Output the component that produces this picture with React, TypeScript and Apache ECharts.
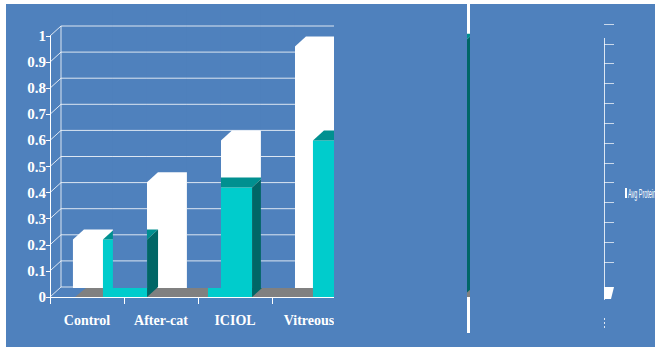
import React, { useEffect, useRef } from "react";
import * as echarts from "echarts";

// ---- data ----
const categories = ["Control", "After-cat", "ICIOL", "Vitreous"];
const backValues = [0.22, 0.44, 0.6, 0.96]; // white (rear row)
const frontValues = [0.22, 0.42, 0.6, 0.97]; // cyan "Avg Protein"
const yTicks = [0, 0.1, 0.2, 0.3, 0.4, 0.5, 0.6, 0.7, 0.8, 0.9, 1];
const legendLabel = "Avg Protein";

// ---- style / layout ----
const BLUE = "#4f81bd";
const WHITE = "#ffffff";
const GRID_LINE = "rgba(255,255,255,0.8)";
const CYAN = "#00cccc";
const CYAN_TOP = "#009090";
const CYAN_SIDE = "#006666";
const FLOOR = "#808080";
const DX = 11;
const DY = -10;
const SERIF = "'Liberation Serif', 'Times New Roman', serif";

function buildOption(): any {
  const wallSeries = {
    type: "custom",
    xAxisIndex: 0,
    yAxisIndex: 0,
    z: 1,
    silent: true,
    data: yTicks.map((v) => [0, v]),
    renderItem: (params: any, api: any) => {
      const cs = params.coordSys;
      const v = api.value(1);
      const y = api.coord([0, v])[1];
      const st = { stroke: GRID_LINE, lineWidth: 1 };
      const children: any[] = [
        { type: "line", shape: { x1: cs.x, y1: y, x2: cs.x + DX, y2: y + DY }, style: st },
        { type: "line", shape: { x1: cs.x + DX, y1: y + DY, x2: cs.x + cs.width, y2: y + DY }, style: st },
      ];
      if (params.dataIndex === 0) {
        const yTop = api.coord([0, yTicks[yTicks.length - 1]])[1];
        children.push({
          type: "line",
          shape: { x1: cs.x + DX, y1: y + DY, x2: cs.x + DX, y2: yTop + DY },
          style: st,
        });
      }
      return { type: "group", children };
    },
  };

  const floorSeries = {
    type: "custom",
    xAxisIndex: 0,
    yAxisIndex: 0,
    z: 2,
    silent: true,
    data: [[0, 0]],
    renderItem: (params: any, api: any) => {
      const base = api.coord([0, 0]);
      const band = api.size([1, 0])[0];
      const x0 = base[0] - band * 0.19 + 2;
      const y0 = base[1];
      const xe = api.getWidth();
      return {
        type: "polygon",
        shape: { points: [[x0, y0], [x0 + DX, y0 + DY + 1], [xe, y0 + DY + 1], [xe, y0]] },
        style: { fill: FLOOR },
      };
    },
  };

  const backSeries = {
    type: "custom",
    name: "Rear",
    xAxisIndex: 0,
    yAxisIndex: 0,
    z: 2,
    data: backValues.map((v, i) => [i, v]),
    renderItem: (params: any, api: any) => {
      const i = api.value(0);
      const v = api.value(1);
      const top = api.coord([i, v]);
      const base = api.coord([i, 0]);
      const band = api.size([1, 0])[0];
      const L = top[0] - band * 0.19;
      const R = L + band * 0.54;
      const bottom = base[1] + DY + 1;
      return {
        type: "polygon",
        shape: {
          points: [
            [L, bottom],
            [L, top[1]],
            [L + DX, top[1] + DY],
            [R + DX, top[1] + DY],
            [R + DX, bottom + DY],
            [R, bottom],
          ],
        },
        style: { fill: WHITE },
      };
    },
  };

  const frontSeries = {
    type: "custom",
    name: legendLabel,
    xAxisIndex: 1,
    yAxisIndex: 1,
    z: 3,
    data: frontValues.map((v, i) => [i, v]),
    renderItem: (params: any, api: any) => {
      const i = api.value(0);
      const v = api.value(1);
      const top = api.coord([i, v]);
      const base = api.coord([i, 0]);
      const band = api.size([1, 0])[0];
      const w = band * 0.42;
      const L = top[0] - w / 2;
      const R = L + w;
      return {
        type: "group",
        children: [
          { type: "rect", shape: { x: L, y: top[1], width: w, height: base[1] - top[1] }, style: { fill: CYAN } },
          {
            type: "polygon",
            shape: { points: [[L, top[1]], [L + DX, top[1] + DY], [R + DX, top[1] + DY], [R, top[1]]] },
            style: { fill: CYAN_TOP },
          },
          {
            type: "polygon",
            shape: { points: [[R, top[1]], [R + DX, top[1] + DY], [R + DX, base[1] + DY], [R, base[1]]] },
            style: { fill: CYAN_SIDE },
          },
        ],
      };
    },
  };

  const gapSeries = {
    type: "custom",
    xAxisIndex: 0,
    yAxisIndex: 0,
    z: 4,
    silent: true,
    data: categories.map((_, i) => [i, 0]),
    renderItem: (params: any, api: any) => {
      const cs = params.coordSys;
      const i = api.value(0);
      const base = api.coord([i, 0]);
      const band = api.size([1, 0])[0];
      const L = base[0] - band * 0.19;
      const x1 = L + band * 0.54;
      const x2 = L + band;
      const yb = base[1] + DY + 1;
      const children: any[] = [
        { type: "rect", shape: { x: x1, y: cs.y - 30, width: x2 - x1, height: yb - (cs.y - 30) }, style: { fill: BLUE } },
      ];
      yTicks.forEach((t) => {
        const y = api.coord([i, t])[1] + DY;
        if (y < yb - 1) {
          children.push({
            type: "line",
            shape: { x1, y1: y, x2, y2: y },
            style: { stroke: GRID_LINE, lineWidth: 1 },
          });
        }
      });
      return { type: "group", children };
    },
  };

  return {
    animation: false,
    backgroundColor: BLUE,
    grid: [
      { left: 50, top: 36, width: 296, height: 261 },
      { left: 72.5, top: 36, width: 420, height: 261 },
      { left: 604, top: 24, width: 10, height: 238 },
    ],
    xAxis: [
      {
        type: "category",
        gridIndex: 0,
        data: categories,
        axisLine: { show: true, lineStyle: { color: WHITE, width: 1 } },
        axisTick: { show: true, length: 7, lineStyle: { color: WHITE } },
        axisLabel: {
          color: WHITE,
          fontFamily: SERIF,
          fontWeight: "bold",
          fontSize: 14,
          margin: 16,
        },
        splitLine: { show: false },
      },
      { type: "category", gridIndex: 1, data: categories, show: false },
      { type: "value", gridIndex: 2, show: false },
    ],
    yAxis: [
      {
        type: "value",
        gridIndex: 0,
        min: 0,
        max: 1,
        interval: 0.1,
        axisLine: { show: true, lineStyle: { color: WHITE, width: 1 } },
        axisTick: { show: true, length: 4, lineStyle: { color: WHITE } },
        axisLabel: {
          color: WHITE,
          fontFamily: SERIF,
          fontWeight: "bold",
          fontSize: 15,
          margin: 4,
        },
        splitLine: { show: false },
      },
      { type: "value", gridIndex: 1, min: 0, max: 1, show: false },
      {
        type: "value",
        gridIndex: 2,
        min: 0,
        max: 12,
        interval: 1,
        z: 150,
        axisLine: { show: false },
        axisTick: { show: true, inside: true, length: 10, lineStyle: { color: "rgba(255,255,255,0.7)" } },
        axisLabel: { show: false },
        splitLine: { show: false },
      },
    ],
    graphic: [
      // slit showing through the crop (under the series)
      { type: "rect", z: 0, shape: { x: 467, y: 4, width: 3, height: 329 }, style: { fill: WHITE } },
      // crop covers
      { type: "rect", z: 100, silent: true, shape: { x: 334, y: 0, width: 133, height: 347 }, style: { fill: BLUE } },
      { type: "rect", z: 100, silent: true, shape: { x: 470, y: 0, width: 185, height: 347 }, style: { fill: BLUE } },
      // right axis remnants
      {
        type: "line",
        z: 150,
        shape: { x1: 604.5, y1: 38, x2: 604.5, y2: 300 },
        style: { stroke: "rgba(255,255,255,0.8)", lineWidth: 1 },
      },
      {
        type: "polygon",
        z: 150,
        shape: { points: [[604, 287], [614, 287], [611, 299], [604, 299]] },
        style: { fill: WHITE },
      },
      {
        type: "line",
        z: 150,
        shape: { x1: 604.5, y1: 318, x2: 604.5, y2: 328 },
        style: { stroke: "rgba(255,255,255,0.8)", lineWidth: 1, lineDash: [2, 2] },
      },
      // legend
      { type: "rect", z: 150, shape: { x: 625, y: 188, width: 2, height: 10 }, style: { fill: WHITE } },
      {
        type: "text",
        z: 150,
        x: 628,
        y: 193.5,
        scaleX: 0.42,
        style: {
          text: legendLabel,
          fill: WHITE,
          fontSize: 13,
          fontFamily: "'Liberation Sans', Arial, sans-serif",
          verticalAlign: "middle",
          align: "left",
        },
      },
      // page margins
      { type: "rect", z: 200, silent: true, shape: { x: 0, y: 0, width: 6, height: 347 }, style: { fill: WHITE } },
      { type: "rect", z: 200, silent: true, shape: { x: 0, y: 0, width: 655, height: 4 }, style: { fill: WHITE } },
    ],
    series: [wallSeries, floorSeries, backSeries, frontSeries, gapSeries],
  };
}

export default function App() {
  const ref = useRef<HTMLDivElement>(null);
  useEffect(() => {
    if (!ref.current) return;
    const chart = echarts.init(ref.current, null, { renderer: "svg" });
    chart.setOption(buildOption());
    return () => chart.dispose();
  }, []);
  return (
    <div
      ref={ref}
      style={{ position: "fixed", left: 0, top: 0, width: 655, height: 347 }}
    />
  );
}
